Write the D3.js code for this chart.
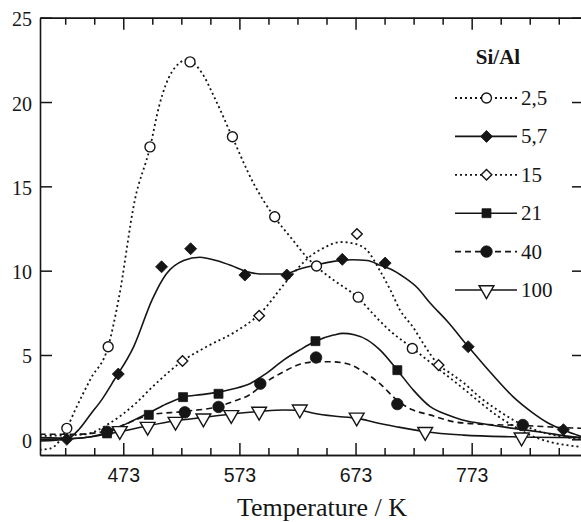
<!DOCTYPE html>
<html><head><meta charset="utf-8">
<script src="https://cdn.jsdelivr.net/npm/d3@7"></script>
<style>
html,body{margin:0;padding:0;background:#fff;}
svg{display:block;}
</style></head>
<body>
<div id="chart"></div>
<script>
// ---------- DATA ----------
const seriesNames = ["2,5", "5,7", "15", "21", "40", "100"];
const xMajorTicks = [473, 573, 673, 773];
const xMinorTicks = [423, 448, 498, 523, 548, 598, 623, 648, 698, 723, 748, 798, 823, 848];
const yTicks = [0, 5, 10, 15, 20, 25];

// measured points (T / K, value)
const pts25 = [[424.4,0.65],[460,5.49],[496,17.34],[530.5,22.38],[567,17.94],[603.4,13.2],[639.4,10.28],[675.3,8.43],[721.9,5.39]];
const pts57 = [[424.4,0.0],[468.7,3.87],[506,10.23],[531,11.3],[577.7,9.74],[613.8,9.74],[661.6,10.67],[698.5,10.45],[770,5.49],[852,0.57]];
const pts15 = [[524,4.64],[590,7.33],[674.2,12.17],[744.5,4.4]];
const pts21 = [[459,0.35],[495,1.45],[524.5,2.5],[555,2.7],[638.5,5.82],[709,4.1]];
const pts40 = [[459,0.45],[526,1.6],[555,1.92],[591,3.3],[639,4.85],[709,2.09],[817,0.85]];
const pts100 = [[470,0.5],[494,0.75],[518,1.05],[542,1.25],[566,1.45],[590,1.65],[625,1.78],[674,1.3],[733,0.45],[816,0.12]];

// fitted curves (T / K, value)
const fit25 = [[401,-0.62],[410,-0.55],[418,-0.1],[424,0.6],[432,1.8],[445,3.6],[460,5.5],[469,8.3],[483,14.2],[496,17.3],[504,19.8],[515,21.8],[528,22.5],[540,21.8],[552,20.2],[567,17.9],[585,15.2],[603,13.2],[618,11.9],[631,10.8],[640,10.2],[655,9.4],[675,8.4],[690,7.3],[700,6.6],[722,5.4],[733,4.8],[744,4.2],[755,3.6],[766,3.0],[780,2.2],[795,1.4],[810,0.75],[825,0.2],[840,-0.15],[855,-0.35],[868,-0.45]];
const fit57 = [[401,-0.1],[415,-0.05],[424,0.0],[435,0.6],[445,1.5],[455,2.4],[465,3.5],[482,5.5],[498,8.3],[510,9.8],[525,10.6],[539,10.8],[553,10.6],[566,10.3],[577,10.0],[591,9.8],[611,9.8],[625,10.1],[640,10.35],[654,10.55],[670,10.65],[683,10.6],[695,10.3],[703,10.1],[715,9.6],[726,9.0],[737,8.1],[752,7.0],[770,5.5],[790,3.9],[809,2.5],[825,1.6],[838,1.0],[852,0.55],[868,0.15]];
const fit15 = [[401,0.2],[430,0.25],[441,0.3],[460,0.9],[484,2.15],[498,3.1],[524,4.64],[545,5.5],[570,6.4],[590,7.4],[614,9.4],[633,10.8],[647,11.4],[660,11.7],[672,11.6],[683,11.2],[694,10.0],[703,8.85],[711,7.7],[723,6.6],[733,5.5],[744,4.45],[755,3.9],[766,3.35],[780,2.5],[795,1.75],[810,1.1],[830,0.5],[848,0.2],[868,0.0]];
const fit21 = [[401,0.1],[430,0.05],[445,0.15],[459,0.4],[475,0.9],[496,1.6],[510,2.1],[525,2.5],[540,2.65],[555,2.8],[568,3.0],[582,3.3],[596,3.9],[611,4.7],[625,5.3],[638,5.8],[654,6.18],[662,6.28],[672,6.2],[683,5.9],[694,5.3],[709,4.1],[723,2.9],[737,1.95],[752,1.45],[765,1.15],[780,0.95],[809,0.65],[835,0.4],[860,0.15],[868,0.1]];
const fit40 = [[401,0.3],[430,0.3],[445,0.35],[459,0.5],[475,0.9],[496,1.45],[525,1.65],[555,1.95],[568,2.25],[582,2.65],[596,3.4],[611,4.0],[625,4.45],[640,4.6],[651,4.6],[665,4.5],[680,4.0],[694,3.3],[709,2.3],[722,1.75],[737,1.45],[757,1.05],[780,0.9],[818,0.82],[845,0.72],[868,0.65]];
const fit100 = [[401,0.0],[430,0.05],[450,0.2],[470,0.45],[494,0.8],[518,1.1],[542,1.3],[566,1.5],[590,1.65],[611,1.74],[625,1.72],[637,1.55],[654,1.38],[675,1.24],[690,1.0],[708,0.75],[733,0.45],[766,0.25],[808,0.15],[868,0.1]];

const seriesPoints = [pts25, pts57, pts15, pts21, pts40, pts100];
const seriesFits = [fit25, fit57, fit15, fit21, fit40, fit100];

// ---------- STYLE ----------
const W = 581, H = 522;
const plot = {left: 40, right: 582, top: 17.7, bottom: 455};
const ink = "#151515";
const dashes = ["2,3", null, "2,3", null, "6,4", null];
const widths = [1.8, 1.6, 1.8, 1.6, 1.6, 1.6];
// marker: [symbol, area, filled, rotation]
const markers = [
  [d3.symbolCircle, 78, false, 0],
  [d3.symbolSquare, 72, true, 45],
  [d3.symbolSquare, 56, false, 45],
  [d3.symbolSquare, 80, true, 0],
  [d3.symbolCircle, 104, true, 0],
  [d3.symbolTriangle, 95, false, 180]
];

const svg = d3.select("#chart").append("svg").attr("width", W).attr("height", H);

const x = d3.scaleLinear().domain([401.3, 868]).range([plot.left, plot.right]);
const y = d3.scaleLinear().domain([-0.93, 25]).range([plot.bottom, plot.top]);

svg.append("defs").append("clipPath").attr("id", "clip")
  .append("rect").attr("x", plot.left).attr("y", plot.top)
  .attr("width", plot.right - plot.left).attr("height", plot.bottom - plot.top);

function styleAxis(g) {
  g.selectAll("path.domain").attr("stroke", ink).attr("stroke-width", 1.6);
  g.selectAll(".tick line").attr("stroke", ink).attr("stroke-width", 1.5);
}

// bottom axis
const gB = svg.append("g").attr("transform", `translate(0,${plot.bottom})`)
  .call(d3.axisBottom(x).tickValues(xMajorTicks).tickSize(-12).tickSizeOuter(0).tickPadding(12.8).tickFormat(d3.format("d")));
gB.call(styleAxis);
gB.selectAll("text").attr("font-family", "'Liberation Sans', Arial, sans-serif").attr("font-size", 19.5).attr("fill", ink);
svg.append("g").attr("transform", `translate(0,${plot.bottom})`)
  .call(d3.axisBottom(x).tickValues(xMinorTicks).tickSize(-7).tickSizeOuter(0).tickFormat(""))
  .call(styleAxis);

// top axis
svg.append("g").attr("transform", `translate(0,${plot.top})`)
  .call(d3.axisTop(x).tickValues(xMajorTicks).tickSize(-12).tickSizeOuter(0).tickFormat(""))
  .call(styleAxis);
svg.append("g").attr("transform", `translate(0,${plot.top})`)
  .call(d3.axisTop(x).tickValues(xMinorTicks).tickSize(-7).tickSizeOuter(0).tickFormat(""))
  .call(styleAxis);

// left axis
const gL = svg.append("g").attr("transform", `translate(${plot.left},0)`)
  .call(d3.axisLeft(y).tickValues(yTicks).tickSize(-12).tickSizeOuter(0).tickPadding(8));
gL.call(styleAxis);
gL.selectAll("text").attr("font-family", "'Liberation Serif', 'Times New Roman', serif").attr("font-size", 20).attr("dy", "0.4em").attr("fill", ink);

// right axis
svg.append("g").attr("transform", `translate(${plot.right},0)`)
  .call(d3.axisRight(y).tickValues(yTicks).tickSize(-10).tickSizeOuter(0).tickFormat(""))
  .call(styleAxis);

// x title
svg.append("text").attr("x", 322).attr("y", 516).attr("text-anchor", "middle")
  .attr("font-family", "'Liberation Serif', 'Times New Roman', serif").attr("font-size", 26).attr("fill", ink)
  .text("Temperature / K");

// curves
const line = d3.line().x(d => x(d[0])).y(d => y(d[1])).curve(d3.curveMonotoneX);
const gC = svg.append("g").attr("clip-path", "url(#clip)");
seriesFits.forEach((fit, i) => {
  gC.append("path").datum(fit).attr("d", line).attr("fill", "none")
    .attr("stroke", ink).attr("stroke-width", widths[i])
    .attr("stroke-dasharray", dashes[i]);
});

function drawMarker(g, i, cx, cy) {
  const [sym, size, filled, rot] = markers[i];
  g.append("path").attr("d", d3.symbol(sym, size)())
    .attr("transform", `translate(${cx},${cy}) rotate(${rot})`)
    .attr("fill", filled ? ink : "#fff")
    .attr("stroke", ink).attr("stroke-width", filled ? 0.8 : 1.4);
}

// points
const gP = svg.append("g");
seriesPoints.forEach((pts, i) => {
  pts.forEach(p => drawMarker(gP, i, x(p[0]), y(p[1])));
});

// legend
const gLeg = svg.append("g");
gLeg.append("text").attr("x", 498).attr("y", 64).attr("text-anchor", "middle")
  .attr("font-family", "'Liberation Serif', 'Times New Roman', serif").attr("font-size", 21)
  .attr("font-weight", "bold").attr("fill", ink).text("Si/Al");
const legY0 = 98, legStep = 38.4;
seriesNames.forEach((name, i) => {
  const ly = legY0 + i * legStep;
  gLeg.append("line").attr("x1", 455).attr("x2", 517).attr("y1", ly).attr("y2", ly)
    .attr("stroke", ink).attr("stroke-width", widths[i]).attr("stroke-dasharray", dashes[i]);
  drawMarker(gLeg, i, 486.5, ly);
  gLeg.append("text").attr("x", 521).attr("y", ly + 7)
    .attr("font-family", "'Liberation Serif', 'Times New Roman', serif").attr("font-size", 21)
    .attr("fill", ink).text(name);
});
</script>
</body></html>
